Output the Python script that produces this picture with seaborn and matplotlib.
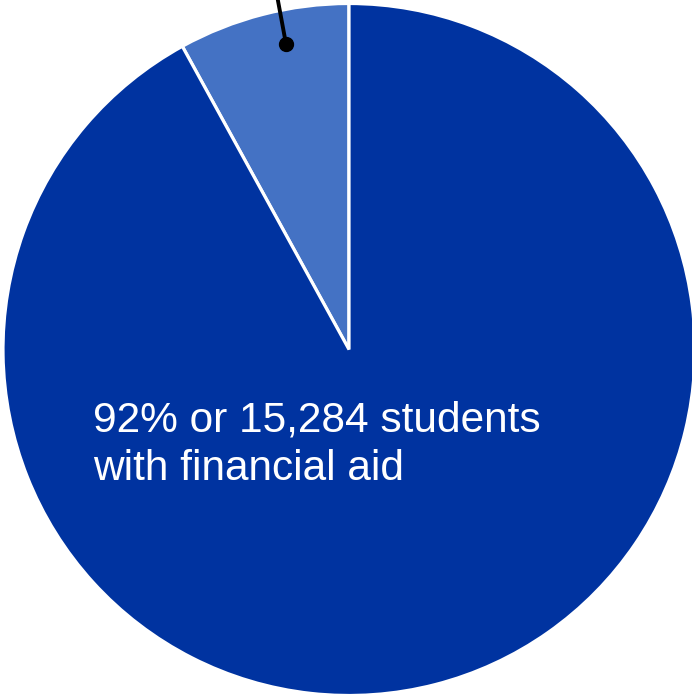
import matplotlib
matplotlib.use("Agg")
import matplotlib.pyplot as plt
import seaborn as sns

categories = ["Without financial aid", "With financial aid"]
shares = [8, 92]
colors = ["#4472C4", "#0033A0"]
main_label_lines = ["92% or 15,284 students", "with financial aid"]

sns.set_theme(style="white")
plt.rcParams['font.family'] = ['Liberation Sans', 'DejaVu Sans']

W, H = 692, 696
fig = plt.figure(figsize=(W / 100, H / 100), dpi=100)
ax = fig.add_axes([0, 0, 1, 1])

ax.pie(shares, colors=colors, startangle=90, counterclock=True,
       radius=1.0, wedgeprops=dict(edgecolor="white", linewidth=2.3))

cx, cy, r = 349, 349.5, 346
ax.set_xlim(-cx / r, (W - cx) / r)
ax.set_ylim(-(H - cy) / r, cy / r)
ax.set_aspect('auto')
ax.axis('off')

# leader line for the small slice
ax.plot([(286 - cx) / r, (276 - cx) / r], [(cy - 44) / r, (cy + 10) / r],
        color="black", lw=2.8, solid_capstyle='butt', clip_on=False)
ax.plot([(286 - cx) / r], [(cy - 44) / r], 'o', color="black", markersize=10)

for line, base_px in zip(main_label_lines, [432, 480]):
    ax.text((93 - cx) / r, (cy - base_px) / r, line, color="white",
            fontsize=30.5, ha="left", va="baseline")

fig.savefig("out.png", dpi=100)
